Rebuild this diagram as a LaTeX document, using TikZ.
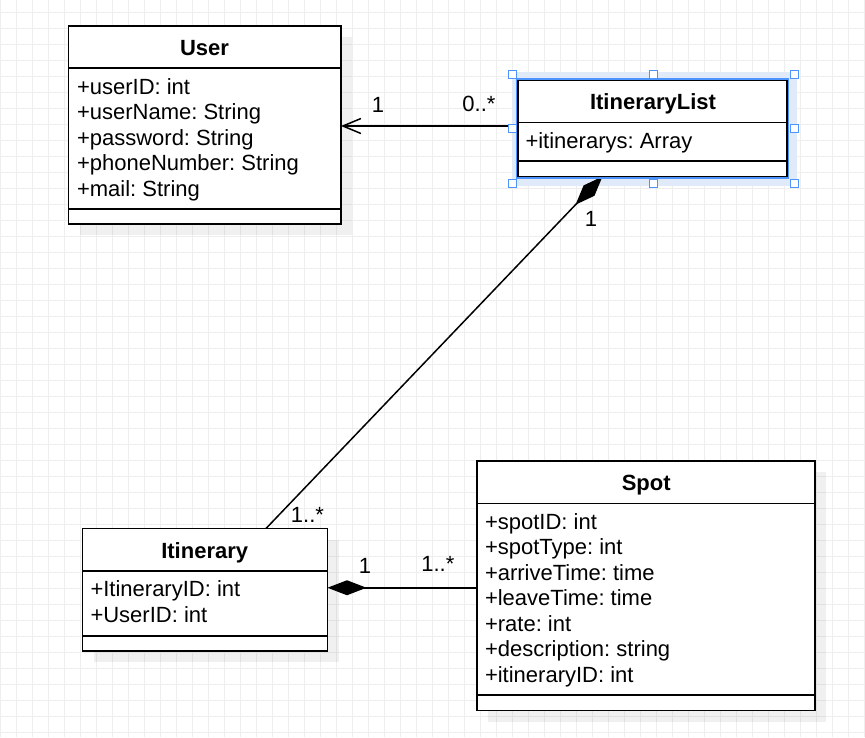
\documentclass[tikz,border=0pt]{standalone}
\usepackage{fontspec}
\setmainfont{Liberation Sans}
\usetikzlibrary{arrows.meta,positioning,calc}
\definecolor{gridColor}{HTML}{EEEEEE}
\definecolor{selColor}{HTML}{4D94FF}
\definecolor{glowColor}{HTML}{E1EAF8}
\tikzset{
	cls/.style={draw, line width=1.7pt, fill=white, inner sep=0, outer sep=0},
	ttl/.style={font=\fontsize{22}{25.5}\selectfont\bfseries, inner sep=0, text height=15.5pt, text depth=0pt},
	attrs/.style={anchor=west, inner sep=0, outer sep=0},
	lbl/.style={inner sep=0, text height=15.5pt, text depth=0pt},
	shdw/.style={fill=black, opacity=0.06},
	sepline/.style={line width=1.7pt},
	handle/.style={draw=selColor, fill=white, line width=1pt, minimum size=8pt, inner sep=0},
	comp/.style={{Diamond[length=39pt,width=15pt]}-, line width=1.5pt},
	assoc/.style={-{Straight Barb[length=18pt,width=15pt]}, line width=1.5pt}
}
\newcommand{\attrlist}[1]{\begin{tabular}{@{}l@{}}#1\end{tabular}}

\begin{document}
\begin{tikzpicture}[x=1pt, y=-1pt, font=\fontsize{22}{25.5}\selectfont\frenchspacing]
				\fill[white] (0,0) rectangle (865,737);
				\useasboundingbox (0,0) rectangle (865,737);
				% grid
				\foreach \gx in {0.5,16.5,...,864.5} \draw[gridColor, line width=1pt] (\gx,0) -- (\gx,737);
				\foreach \gy in {12.5,28.5,...,736.5} \draw[gridColor, line width=1pt] (0,\gy) -- (865,\gy);
				% shadows
				\fill[shdw] (79.5,37) rectangle (352,235);
				\fill[shdw] (93.5,539.5) rectangle (338.5,662);
				\fill[shdw] (488,472) rectangle (826,721.5);
				\fill[glowColor] (512,72) rectangle (797,186);
				% classes
				\node[cls, minimum width=272.5pt, minimum height=198pt] (user) at (204.75,125) {};
				\node[cls, minimum width=269.5pt, minimum height=96pt] (itlist) at (652.5,128.5) {};
				\node[cls, minimum width=245pt, minimum height=122.5pt] (itin) at (205,589.75) {};
				\node[cls, minimum width=338pt, minimum height=249.5pt] (spot) at (646,585.75) {};
				\draw[sepline] ([yshift=-42pt]user.north west) -- ([yshift=-42pt]user.north east);
				\draw[sepline] ([yshift=15pt]user.south west) -- ([yshift=15pt]user.south east);
				\draw[sepline] ([yshift=-42pt]itlist.north west) -- ([yshift=-42pt]itlist.north east);
				\draw[sepline] ([yshift=15.5pt]itlist.south west) -- ([yshift=15.5pt]itlist.south east);
				\draw[sepline] ([yshift=-42.5pt]itin.north west) -- ([yshift=-42.5pt]itin.north east);
				\draw[sepline] ([yshift=15pt]itin.south west) -- ([yshift=15pt]itin.south east);
				\draw[sepline] ([yshift=-42.5pt]spot.north west) -- ([yshift=-42.5pt]spot.north east);
				\draw[sepline] ([yshift=15.5pt]spot.south west) -- ([yshift=15.5pt]spot.south east);
				% titles and attributes
				\node[ttl] (userT) at (204.5,47.5) {User};
				\node[ttl] (itlistT) at (653,102) {ItineraryList};
				\node[ttl] (itinT) at (204.7,550.5) {Itinerary};
				\node[ttl] (spotT) at (646.2,483.2) {Spot};
				\node[attrs] (userA) at (77,140.1) {\attrlist{+userID: int\\ +userName: String\\ +password: String\\ +phoneNumber: String\\ +mail: String}};
				\node[attrs] (itlistA) at (525.5,143.3) {\attrlist{+itinerarys: Array}};
				\node[attrs] (itinA) at (90.5,604.6) {\attrlist{+ItineraryID: int\\ +UserID: int}};
				\node[attrs] (spotA) at (485,600.5) {\attrlist{+spotID: int\\ +spotType: int\\ +arriveTime: time\\ +leaveTime: time\\ +rate: int\\ +description: string\\ +itineraryID: int}};
				% relations
				\draw[assoc] ([yshift=2.5pt]itlist.west) -- ([yshift=-1pt]user.east);
				\node[lbl] (userM) at (378,104.5) {1};
				\node[lbl] (itlistM) at (479,104) {0..*};
				\draw[comp] ([xshift=-50pt]itlist.south) -- ([xshift=61pt]itin.north);
				\node[lbl] (itlistC) at (591,218.7) {1};
				\node[lbl] (itinC) at (307.5,514.5) {1..*};
				\draw[comp] ([yshift=2pt]itin.east) -- ([yshift=-2pt]spot.west);
				\node[lbl] (itinS) at (365,565.5) {1};
				\node[lbl] (spotS) at (437.8,564.2) {1..*};
				% selection of ItineraryList
				\draw[selColor, line width=1.3pt] ([shift={(-1.4pt,1.4pt)}]itlist.north west) rectangle ([shift={(1.4pt,-1.4pt)}]itlist.south east);
				\foreach \hx/\hy [count=\i] in {512/74, 653/74, 794/74, 512/128.5, 794/128.5, 512/183.5, 653/183.5, 794/183.5}
					\node[handle] (hdl\i) at (\hx,\hy) {};
			\end{tikzpicture}
\end{document}
